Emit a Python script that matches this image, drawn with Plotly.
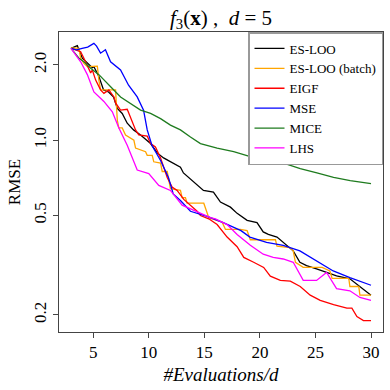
import plotly.graph_objects as go

# ES-LOO
esloo_x = [3.0, 3.3, 3.57, 4.02, 4.47, 4.92, 5.06, 5.51, 5.93, 6.38, 6.83, 7.17, 7.61, 8.06, 8.63, 9.26,
           10.16, 10.76, 11.33, 12.22, 12.85, 13.12, 14.02, 14.92, 15.82, 16.45, 17.35, 17.95, 18.85, 19.74,
           20.3, 20.76, 21.54, 22.1, 23.0, 23.6, 24.2, 25.1, 26.0, 26.9, 28.1, 29.0, 30.0]
esloo_y = [2.33, 2.36, 2.39, 2.13, 2.04, 1.95, 1.97, 1.80, 1.59, 1.56, 1.49, 1.34, 1.28, 1.17, 1.10, 1.05,
           0.97, 0.89, 0.85, 0.81, 0.78, 0.74, 0.68, 0.63, 0.62, 0.566, 0.54, 0.51, 0.478, 0.468,
           0.43, 0.42, 0.41, 0.39, 0.361, 0.325, 0.315, 0.306, 0.296, 0.287, 0.279, 0.26, 0.24]

# ES-LOO (batch)
batch_x = [3.0, 3.72, 3.87, 4.16, 4.47, 5.37, 5.51, 5.66, 7.01, 7.17, 7.3, 7.61, 7.91, 8.66, 8.81, 9.71,
           9.86, 10.31, 10.45, 11.06, 11.21, 11.66, 11.95, 12.85, 13.0, 13.3, 13.45, 14.65, 14.95, 15.4,
           16.6, 16.9, 18.24, 18.85, 19.14, 19.74, 21.4, 21.54, 22.7, 23.0, 23.2, 23.9, 25.6, 26.3, 26.5,
           28.0, 28.1, 28.9, 29.0, 30.0]
batch_y = [2.34, 2.33, 2.13, 2.03, 1.97, 1.98, 1.74, 1.59, 1.59, 1.20, 1.12, 1.12, 1.05, 1.0, 0.93, 0.90,
           0.87, 0.87, 0.82, 0.81, 0.75, 0.75, 0.64, 0.63, 0.59, 0.59, 0.56, 0.56, 0.56, 0.49,
           0.47, 0.44, 0.44, 0.435, 0.40, 0.40, 0.40, 0.377, 0.372, 0.361, 0.325, 0.31, 0.31, 0.30, 0.28,
           0.28, 0.26, 0.26, 0.24, 0.24]

# EIGF
eigf_x = [3.0, 3.87, 4.16, 4.47, 4.77, 4.92, 5.22, 5.66, 5.96, 6.41, 6.86, 7.01, 7.46, 8.06, 8.36, 8.81,
          9.1, 9.86, 10.16, 10.6, 11.06, 11.66, 12.1, 12.55, 13.15, 13.75, 14.35, 14.65, 15.4, 16.15,
          17.05, 17.95, 18.55, 19.44, 20.34, 20.94, 21.84, 22.74, 23.63, 24.53, 25.43, 26.63, 27.83,
          28.28, 28.73, 29.32, 30.0]
eigf_y = [2.33, 2.26, 2.13, 1.97, 1.86, 1.91, 1.74, 1.59, 1.54, 1.59, 1.49, 1.41, 1.32, 1.33, 1.24, 1.10,
          1.05, 1.04, 0.97, 0.94, 0.85, 0.71, 0.65, 0.63, 0.58, 0.55, 0.52, 0.50, 0.485, 0.46,
          0.41, 0.375, 0.34, 0.325, 0.31, 0.286, 0.275, 0.273, 0.26, 0.24, 0.229, 0.22, 0.213,
          0.213, 0.197, 0.19, 0.19]

# MSE
mse_x = [3.0, 3.5, 4.0, 4.5, 5.06, 5.3, 5.66, 6.1, 6.56, 7.46, 8.18, 8.96, 9.53, 9.86, 10.3, 11.06,
         11.77, 12.2, 12.85, 13.75, 15.25, 16.7, 18.3, 19.1, 20.6, 22.1, 23.6, 25.1, 26.6, 28.1, 30.0]
mse_y = [2.33, 2.30, 2.33, 2.36, 2.44, 2.38, 2.23, 2.30, 2.06, 1.91, 1.66, 1.49, 1.32, 1.10, 0.95, 0.83,
         0.71, 0.61, 0.574, 0.52, 0.496, 0.468, 0.435, 0.41, 0.39, 0.38, 0.361, 0.33, 0.30, 0.282, 0.263]

# MICE
mice_x = [3.0, 3.72, 4.16, 4.77, 5.51, 6.11, 6.72, 7.46, 8.36, 9.26, 10.16, 11.06, 11.95, 12.85, 13.75,
          14.65, 16.15, 17.64, 19.14, 20.64, 22.13, 23.63, 25.13, 26.63, 28.13, 30.0]
mice_y = [2.33, 2.13, 2.06, 1.94, 1.83, 1.71, 1.61, 1.49, 1.40, 1.32, 1.28, 1.22, 1.15, 1.10, 1.03,
          0.97, 0.93, 0.90, 0.86, 0.83, 0.81, 0.77, 0.74, 0.71, 0.69, 0.67]

# LHS
lhs_x = [3.0, 3.87, 4.47, 5.06, 5.96, 6.72, 7.31, 8.06, 8.96, 10.0, 10.9, 11.95, 13.0, 14.05, 15.55,
         16.0, 17.05, 17.95, 19.14, 20.3, 21.2, 22.1, 23.0, 23.9, 25.1, 26.0, 26.9, 28.1, 29.0, 30.0]
lhs_y = [2.33, 2.06, 1.83, 1.56, 1.43, 1.30, 1.12, 0.955, 0.76, 0.735, 0.66, 0.63, 0.55, 0.525, 0.49,
         0.485, 0.46, 0.42, 0.38, 0.35, 0.34, 0.335, 0.325, 0.275, 0.275, 0.296, 0.255, 0.25, 0.235, 0.229]

series = [
    ("ES-LOO", esloo_x, esloo_y, "black"),
    ("ES-LOO (batch)", batch_x, batch_y, "#FFA500"),
    ("EIGF", eigf_x, eigf_y, "#FF0000"),
    ("MSE", mse_x, mse_y, "#0000FF"),
    ("MICE", mice_x, mice_y, "#1E7B1E"),
    ("LHS", lhs_x, lhs_y, "#FF00FF"),
]

y_ticks = [0.2, 0.5, 1.0, 2.0]
y_ticktext = ["0.2", "0.5", "1.0", "2.0"]
x_ticks = [5, 10, 15, 20, 25, 30]

SERIF = "Liberation Serif, DejaVu Serif, serif"

fig = go.Figure()
for name, x, y, color in series:
    fig.add_trace(go.Scatter(x=x, y=y, name=name, mode="lines",
                             line=dict(color=color, width=1.3)))

axis_style = dict(showline=True, mirror=True, linecolor="#444", linewidth=1,
                  ticks="outside", ticklen=5, tickcolor="#444", showgrid=False,
                  zeroline=False, tickfont=dict(family=SERIF, size=17, color="black"))

fig.update_layout(
    width=390, height=390,
    margin=dict(l=59, r=7, t=32, b=58),
    paper_bgcolor="white", plot_bgcolor="white",
    title=dict(text="<i>f</i><sub>3</sub>(<b>x</b>) ,  <i>d</i> = 5",
               x=0.5, xref="paper", xanchor="center",
               y=0.955, yref="container", yanchor="middle",
               font=dict(family=SERIF, size=21, color="black")),
    xaxis=dict(range=[1.92, 31.08], tickvals=x_ticks,
               title=dict(text="<i>#Evaluations/d</i>", standoff=6,
                          font=dict(family=SERIF, size=19, color="black")),
               **axis_style),
    yaxis=dict(type="log", range=[-0.767, 0.433], tickvals=y_ticks, ticktext=y_ticktext,
               tickangle=-90,
               title=dict(text="RMSE", standoff=6,
                          font=dict(family=SERIF, size=17, color="black")),
               **axis_style),
    legend=dict(x=1, xanchor="right", y=1, yanchor="top",
                bgcolor="white", bordercolor="#999", borderwidth=1.5,
                font=dict(family=SERIF, size=13, color="black"),
                itemwidth=30, tracegroupgap=0),
    showlegend=True,
)

fig.write_html("out.html", config={"displayModeBar": False},
               post_script="document.body.style.margin='0px';")
